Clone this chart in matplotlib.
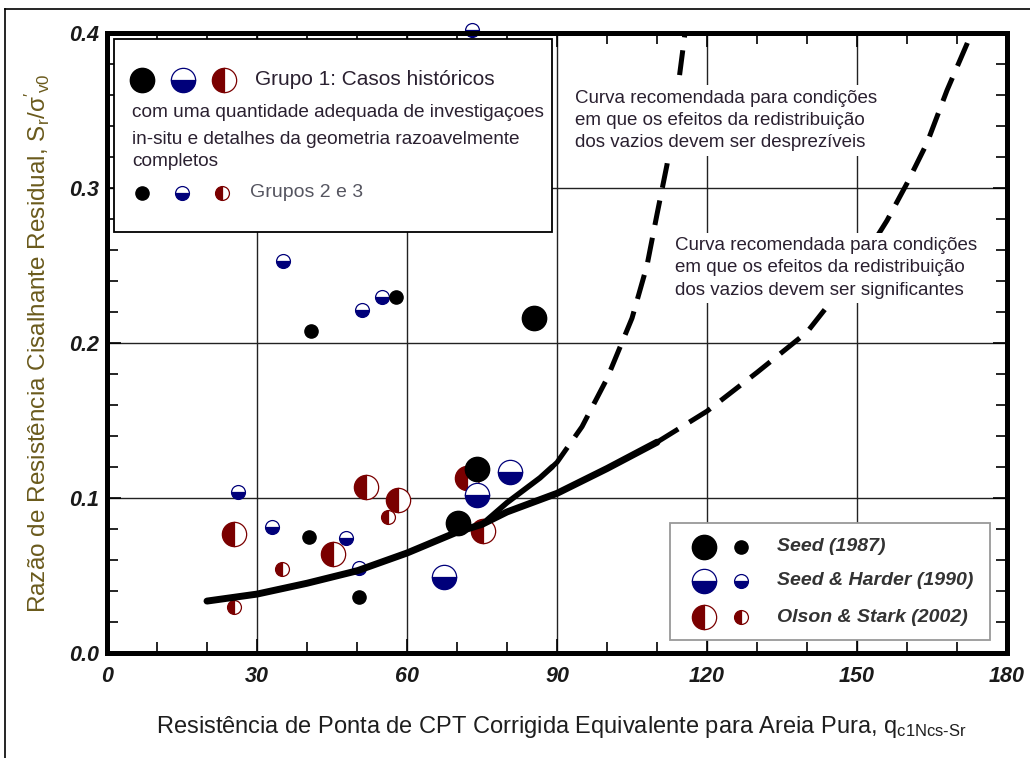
import matplotlib
matplotlib.use("Agg")
import matplotlib.pyplot as plt
from matplotlib.patches import Rectangle
from matplotlib.lines import Line2D
from matplotlib.ticker import MultipleLocator

plt.rcParams['font.family'] = ['Liberation Sans', 'DejaVu Sans']
plt.rcParams['mathtext.fontset'] = 'custom'
plt.rcParams['mathtext.rm'] = 'Liberation Sans'
plt.rcParams['mathtext.it'] = 'Liberation Sans:italic'

# dados
seed_g1_x = [85.3, 70.2, 74.0]
seed_g1_y = [0.216, 0.084, 0.119]
seed_g23_x = [40.7, 57.8, 40.4, 50.4]
seed_g23_y = [0.208, 0.230, 0.075, 0.036]

harder_g1_x = [80.5, 74.0, 67.4]
harder_g1_y = [0.117, 0.102, 0.049]
harder_g23_x = [73.0, 35.2, 55.0, 51.0, 26.2, 33.0, 47.8, 50.4]
harder_g23_y = [0.402, 0.253, 0.230, 0.221, 0.104, 0.081, 0.074, 0.055]

olson_g1_x = [72.0, 25.4, 51.8, 58.2, 45.2, 75.2]
olson_g1_y = [0.113, 0.077, 0.107, 0.099, 0.064, 0.079]
olson_g23_x = [25.4, 35.0, 56.2]
olson_g23_y = [0.030, 0.054, 0.088]

# curvas recomendadas
main_x = [20, 30, 40, 50, 60, 70, 75, 80, 90, 100, 110]
main_y = [0.0335, 0.038, 0.045, 0.053, 0.0645, 0.078, 0.083, 0.091, 0.103, 0.119, 0.136]
low_dash_x = [110, 120, 130, 140, 150, 156, 160, 164, 168, 172, 174]
low_dash_y = [0.136, 0.156, 0.181, 0.207, 0.248, 0.279, 0.303, 0.329, 0.363, 0.393, 0.41]
up_solid_x = [75, 80, 86.6, 89]
up_solid_y = [0.083, 0.097, 0.113, 0.120]
up_dash_x = [89, 90, 95, 100, 105, 108, 110, 112, 114, 116]
up_dash_y = [0.120, 0.123, 0.146, 0.177, 0.216, 0.250, 0.283, 0.315, 0.360, 0.410]

x_ticks = [0, 30, 60, 90, 120, 150, 180]
y_ticks = [0.0, 0.1, 0.2, 0.3, 0.4]

BLUE = '#00007a'
RED = '#7a0000'
BIG = 17.5
SMALL = 10

fig = plt.figure(figsize=(10.3, 7.58), dpi=100)
ax = fig.add_axes([107/1030, 105/758, 900/1030, 620/758])

# moldura da figura (topo e esquerda)
fig.add_artist(Line2D([5/1030, 5/1030], [0, 1 - 9/758], transform=fig.transFigure, color='k', lw=1.2))
fig.add_artist(Line2D([5/1030, 1], [1 - 9/758, 1 - 9/758], transform=fig.transFigure, color='k', lw=1.2))

def seed(x, y, ms, **kw):
    ax.plot(x, y, 'o', ls='none', ms=ms, color='k', mec='k', **kw)

def harder(x, y, ms, **kw):
    ax.plot(x, y, 'o', ls='none', ms=ms, color=BLUE, mec=BLUE, mew=0.9,
            fillstyle='bottom', markerfacecoloralt='white', **kw)

def olson(x, y, ms, **kw):
    ax.plot(x, y, 'o', ls='none', ms=ms, color=RED, mec=RED, mew=0.9,
            fillstyle='left', markerfacecoloralt='white', **kw)

olson(olson_g1_x, olson_g1_y, BIG, zorder=3)
olson(olson_g23_x, olson_g23_y, SMALL, zorder=3)
harder(harder_g1_x, harder_g1_y, BIG, zorder=3)
harder(harder_g23_x, harder_g23_y, SMALL, zorder=3, clip_on=False)
seed(seed_g1_x, seed_g1_y, BIG, zorder=3)
seed(seed_g23_x, seed_g23_y, 9.5, zorder=3)

ax.plot(main_x, main_y, color='k', lw=5, solid_capstyle='round', zorder=4)
ax.plot(up_solid_x, up_solid_y, color='k', lw=4, solid_capstyle='round', zorder=4)
ax.plot(up_dash_x, up_dash_y, color='k', lw=3.6, ls=(0, (5, 2.6)), zorder=4)
ax.plot(low_dash_x, low_dash_y, color='k', lw=3.6, ls=(0, (5, 2.6)), zorder=4)

ax.set_xlim(0, 180)
ax.set_ylim(0, 0.4)
ax.set_xticks(x_ticks)
ax.set_yticks(y_ticks)
ax.set_xticklabels([str(v) for v in x_ticks])
ax.set_yticklabels(['%.1f' % v for v in y_ticks])
ax.xaxis.set_minor_locator(MultipleLocator(10))
ax.yaxis.set_minor_locator(MultipleLocator(0.02))
ax.tick_params(which='both', direction='in', top=True, right=True, width=1.2, color='k')
ax.tick_params(which='major', length=10)
ax.tick_params(which='minor', length=8)
ax.tick_params(axis='x', which='major', pad=9)
ax.tick_params(axis='y', which='major', pad=6)
for lab in ax.get_xticklabels() + ax.get_yticklabels():
    lab.set_fontweight('bold')
    lab.set_fontstyle('italic')
    lab.set_fontsize(15.5)
    lab.set_color('#1a1a1a')
ax.grid(True, which='major', color='#222222', lw=1.0)
ax.set_axisbelow(True)
for s in ax.spines.values():
    s.set_linewidth(3.6)
    s.set_zorder(5)

ax.set_xlabel("Resistência de Ponta de CPT Corrigida Equivalente para Areia Pura, q$_{\\mathrm{c1Ncs\\text{-}Sr}}$",
              fontsize=17, color='#1e1e1e')
ax.xaxis.set_label_coords(0.505, -0.098)
ax.set_ylabel("Razão de Resistência Cisalhante Residual, S$_\\mathrm{r}$/$\\mathrm{\\sigma'}_\\mathrm{v0}$",
              fontsize=17.5, color='#6a5a1c')
ax.yaxis.set_label_coords(-0.061, 0.5)

# caixa de legenda dos grupos
ax.add_patch(Rectangle((1.4, 0.2716), 87.6, 0.1245, facecolor='white', edgecolor='k', lw=1.3, zorder=6))
seed([7.0], [0.3697], BIG, zorder=7)
harder([15.2], [0.3697], BIG, zorder=7)
olson([23.4], [0.3697], BIG, zorder=7)
seed([7.0], [0.2968], 9.5, zorder=7)
harder([15.0], [0.2968], SMALL, zorder=7)
olson([23.0], [0.2968], SMALL, zorder=7)
txt = '#2a2030'
ax.text(29.6, 0.3697, "Grupo 1: Casos históricos", fontsize=15, color=txt, va='center', zorder=7)
ax.text(5.0, 0.3485, "com uma quantidade adequada de investigaçoes", fontsize=13.7, color=txt, va='center', zorder=7)
ax.text(5.0, 0.3313, "in-situ e detalhes da geometria razoavelmente", fontsize=13.7, color=txt, va='center', zorder=7)
ax.text(5.0, 0.3172, "completos", fontsize=13.7, color=txt, va='center', zorder=7)
ax.text(28.6, 0.2968, "Grupos 2 e 3", fontsize=14, color='#555560', va='center', zorder=7)

# anotacoes das curvas
ax.text(93.6, 0.3635, "Curva recomendada para condições\nem que os efeitos da redistribuição\ndos vazios devem ser desprezíveis",
        fontsize=13.5, color=txt, va='top', ha='left', linespacing=1.42, zorder=6,
        bbox=dict(facecolor='white', edgecolor='none', pad=3))
ax.text(113.6, 0.2685, "Curva recomendada para condições\nem que os efeitos da redistribuição\ndos vazios devem ser significantes",
        fontsize=13.5, color=txt, va='top', ha='left', linespacing=1.42, zorder=6,
        bbox=dict(facecolor='white', edgecolor='none', pad=3))

# legenda das fontes
ax.add_patch(Rectangle((112.6, 0.0084), 64.0, 0.0755, facecolor='white', edgecolor='#999999', lw=1.3, zorder=6))
rows = [0.0684, 0.0465, 0.0232]
names = ["Seed (1987)", "Seed & Harder (1990)", "Olson & Stark (2002)"]
seed([119.4], [rows[0]], BIG, zorder=7)
seed([126.8], [rows[0]], 9.5, zorder=7)
harder([119.4], [rows[1]], BIG, zorder=7)
harder([126.8], [rows[1]], SMALL, zorder=7)
olson([119.4], [rows[2]], BIG, zorder=7)
olson([126.8], [rows[2]], SMALL, zorder=7)
for yy, nm in zip(rows, names):
    ax.text(134.0, yy, nm, fontsize=14, fontweight='bold', fontstyle='italic',
            color='#333333', va='center', zorder=7)

fig.savefig("out.png", dpi=100)
